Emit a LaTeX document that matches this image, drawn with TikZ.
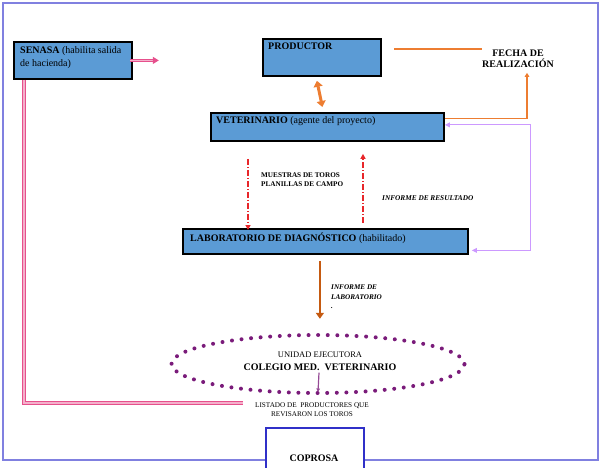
\documentclass[tikz,border=0pt]{standalone}
\usepackage{fontspec}
\setmainfont{Liberation Serif}
\usetikzlibrary{arrows.meta,positioning,shapes.geometric}

\definecolor{cajaazul}{HTML}{5B9BD5}
\definecolor{marco}{HTML}{8080E0}
\definecolor{azulcop}{HTML}{3030C8}
\definecolor{naranja}{HTML}{ED7D31}
\definecolor{marron}{HTML}{C55A11}
\definecolor{rosa}{HTML}{E6508C}
\definecolor{lila}{HTML}{CC99FF}
\definecolor{rojo}{HTML}{E8262A}
\definecolor{morado}{HTML}{7A1B7A}

\begin{document}
\begin{tikzpicture}[x=1pt,y=-1pt,
	caja/.style={draw=black, line width=1.8pt, fill=cajaazul, anchor=north west, inner sep=0pt},
	txt/.style={inner sep=0pt, anchor=north west, align=left, font=\fontsize{10}{13}\selectfont},
	chico/.style={inner sep=0pt, anchor=north west, align=left, font=\bfseries\fontsize{7.2}{8.5}\selectfont},
	rosadoble/.style={draw=rosa, line width=1.2pt, double=rosa!45, double distance=1.2pt},
	rojoflecha/.style={rojo, line width=1.2pt, dash pattern=on 6pt off 2pt on 1pt off 2pt, -{Triangle[length=5pt,width=5pt]}},
	]
	\useasboundingbox (0,0) rectangle (600,468);
	\draw[marco, line width=1.3pt] (3,3) rectangle (598,460);

	% cajas
	\node[caja, minimum width=118pt, minimum height=37pt] (senasa) at (13,41) {};
	\node[caja, minimum width=118pt, minimum height=37pt] (prod) at (262,38) {};
	\node[caja, minimum width=233pt, minimum height=28pt] (vet) at (210,112) {};
	\node[caja, minimum width=285pt, minimum height=25pt] (lab) at (182,228) {};
	\node[draw=azulcop, line width=2pt, fill=white, anchor=north west, minimum width=98pt, minimum height=44pt] (coprosa) at (265,427) {};

	\node[txt] (senasatxt) at (20,46) {\textbf{SENASA} (habilita salida\\de hacienda)};
	\node[txt] (prodtxt) at (268,43) {\textbf{PRODUCTOR}};
	\node[txt] (vettxt) at (216,116) {\textbf{VETERINARIO} (agente del proyecto)};
	\node[txt] (labtxt) at (190,233) {\textbf{LABORATORIO DE DIAGNÓSTICO} (habilitado)};
	\node[inner sep=0pt, font=\bfseries\fontsize{10}{12}\selectfont] (coprosatxt) at (314,458) {COPROSA};

	\node[inner sep=0pt, align=center, font=\bfseries\fontsize{10}{11.5}\selectfont] (fecha) at (518,58.5) {FECHA DE\\REALIZACIÓN};
	\node[chico] (muestras) at (261,173) {MUESTRAS DE TOROS\\PLANILLAS DE CAMPO};
	\node[chico, font=\bfseries\itshape\fontsize{7.3}{8.5}\selectfont] (resultado) at (382,195) {INFORME DE RESULTADO};
	\node[chico, font=\bfseries\itshape\fontsize{7.2}{9.5}\selectfont] (inflab) at (331,285) {INFORME DE\\LABORATORIO\\.};

	% unidad ejecutora
	\node[ellipse, draw=morado, line width=4pt, dash pattern=on 0pt off 9.6pt, line cap=round, minimum width=293pt, minimum height=58pt] (ue) at (318,364) {};
	\node[inner sep=0pt, align=center, font=\fontsize{10}{13}\selectfont] (uetxt) at (320,361) {{\fontsize{8.5}{13}\selectfont UNIDAD EJECUTORA}\\\textbf{COLEGIO MED.\ \ VETERINARIO}};
	\node[inner sep=0pt, align=center, font=\fontsize{7.2}{9}\selectfont] (listado) at (312,409.5) {LISTADO DE\ \ PRODUCTORES QUE\\REVISARON LOS TOROS};

	% conectores
	\draw[rosadoble, -{Triangle[length=6pt,width=7pt]}] ([xshift=-3pt]senasa.east) -- ++(29,0);
	\coordinate (finrosa) at (243,403);
	\draw[rosadoble] ([xshift=11pt]senasa.south west) |- (finrosa);

	\draw[naranja, line width=3pt, {Triangle[length=6pt,width=9pt]}-{Triangle[length=6pt,width=9pt]}] ([xshift=-5pt,yshift=-4pt]prod.south) -- ([xshift=-5pt,yshift=5pt]vet.north);
	\coordinate (o1) at (394,49);
	\draw[naranja, line width=1.2pt] (o1) -- (o1 -| fecha.west);
	\draw[naranja, line width=1.2pt, -{Triangle[length=4pt,width=4.5pt]}] ([yshift=8pt]vet.east) -| ([xshift=9pt,yshift=-5pt]fecha.south);

	\draw[lila, line width=1.2pt, {Triangle[length=5pt,width=4.5pt]}-{Triangle[length=5pt,width=4.5pt]}] ([yshift=2pt]vet.east) -- ++(86,0) |- ([xshift=3pt,yshift=-9pt]lab.east);

	\draw[rojoflecha] ([xshift=38pt,yshift=-17pt]vet.south west) -- ([xshift=66pt,yshift=-2pt]lab.north west);
	\draw[rojoflecha] ([xshift=181pt,yshift=5pt]lab.north west) -- ([xshift=153pt,yshift=-12pt]vet.south west);

	\draw[marron, line width=2.5pt, -{Triangle[length=6pt,width=8pt]}] ([xshift=-5.5pt,yshift=-6pt]lab.south) -- ++(0,58);
	\draw[morado!80, line width=1.2pt, -{Triangle[length=3.5pt,width=3.5pt]}] ([xshift=-1pt,yshift=-2pt]uetxt.south) -- ([yshift=3pt]ue.south);
\end{tikzpicture}
\end{document}
